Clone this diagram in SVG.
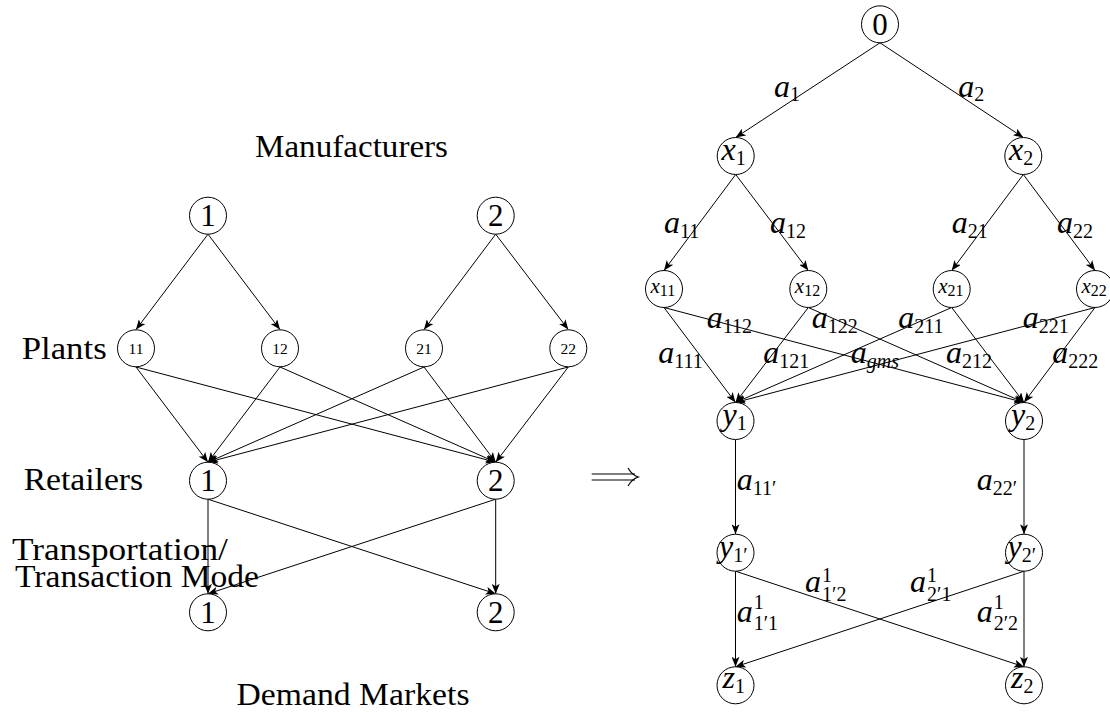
<svg xmlns="http://www.w3.org/2000/svg" width="1110" height="712" viewBox="0 0 1110 712">
<defs>
<marker id="ah" markerUnits="userSpaceOnUse" markerWidth="10" markerHeight="8" viewBox="0 0 10 8" refX="10" refY="4" orient="auto">
<path d="M0,0 L10,4 L0,8 L2.5,4 z" fill="#000"/>
</marker>
</defs>

<g id="connectors" stroke="#000" stroke-width="1">
<line x1="208" y1="234.2" x2="136" y2="329.6" marker-end="url(#ah)"/>
<line x1="208" y1="234.2" x2="280" y2="329.6" marker-end="url(#ah)"/>
<line x1="495.7" y1="234.2" x2="424" y2="329.6" marker-end="url(#ah)"/>
<line x1="495.7" y1="234.2" x2="568.3" y2="329.6" marker-end="url(#ah)"/>
<line x1="136" y1="367" x2="208" y2="462.2" marker-end="url(#ah)"/>
<line x1="136" y1="367" x2="495.7" y2="462.2" marker-end="url(#ah)"/>
<line x1="280" y1="367" x2="208" y2="462.2" marker-end="url(#ah)"/>
<line x1="280" y1="367" x2="495.7" y2="462.2" marker-end="url(#ah)"/>
<line x1="424" y1="367" x2="208" y2="462.2" marker-end="url(#ah)"/>
<line x1="424" y1="367" x2="495.7" y2="462.2" marker-end="url(#ah)"/>
<line x1="568.3" y1="367" x2="208" y2="462.2" marker-end="url(#ah)"/>
<line x1="568.3" y1="367" x2="495.7" y2="462.2" marker-end="url(#ah)"/>
<line x1="208" y1="499.2" x2="208" y2="593.8" marker-end="url(#ah)"/>
<line x1="208" y1="499.2" x2="495.7" y2="593.8" marker-end="url(#ah)"/>
<line x1="495.7" y1="499.2" x2="208" y2="593.8" marker-end="url(#ah)"/>
<line x1="495.7" y1="499.2" x2="495.7" y2="593.8" marker-end="url(#ah)"/>
<line x1="880" y1="42.8" x2="735.7" y2="137.5" marker-end="url(#ah)"/>
<line x1="880" y1="42.8" x2="1023.3" y2="137.5" marker-end="url(#ah)"/>
<line x1="735.7" y1="174.5" x2="664" y2="270.5" marker-end="url(#ah)"/>
<line x1="735.7" y1="174.5" x2="808.3" y2="270.5" marker-end="url(#ah)"/>
<line x1="1023.3" y1="174.5" x2="951.7" y2="270.5" marker-end="url(#ah)"/>
<line x1="1023.3" y1="174.5" x2="1095" y2="270.5" marker-end="url(#ah)"/>
<line x1="664" y1="307.5" x2="735.5" y2="402.5" marker-end="url(#ah)"/>
<line x1="664" y1="307.5" x2="1024" y2="402.5" marker-end="url(#ah)"/>
<line x1="808.3" y1="307.5" x2="735.5" y2="402.5" marker-end="url(#ah)"/>
<line x1="808.3" y1="307.5" x2="1024" y2="402.5" marker-end="url(#ah)"/>
<line x1="951.7" y1="307.5" x2="735.5" y2="402.5" marker-end="url(#ah)"/>
<line x1="951.7" y1="307.5" x2="1024" y2="402.5" marker-end="url(#ah)"/>
<line x1="1095" y1="307.5" x2="735.5" y2="402.5" marker-end="url(#ah)"/>
<line x1="1095" y1="307.5" x2="1024" y2="402.5" marker-end="url(#ah)"/>
<line x1="735.5" y1="439.5" x2="735.5" y2="534.2" marker-end="url(#ah)"/>
<line x1="1024" y1="439.5" x2="1024" y2="534.2" marker-end="url(#ah)"/>
<line x1="735.5" y1="571.2" x2="735.5" y2="666.8" marker-end="url(#ah)"/>
<line x1="735.5" y1="571.2" x2="1024" y2="666.8" marker-end="url(#ah)"/>
<line x1="1024" y1="571.2" x2="735.5" y2="666.8" marker-end="url(#ah)"/>
<line x1="1024" y1="571.2" x2="1024" y2="666.8" marker-end="url(#ah)"/>
</g>

<g id="implies" stroke="#000" stroke-width="1.2" fill="none">
<line x1="591.7" y1="474" x2="635" y2="474"/>
<line x1="591.7" y1="480" x2="635" y2="480"/>
<path d="M628,468 Q632,475 638.3,477 Q632,479 628,486"/>
</g>

<g id="labels-left" font-family="Liberation Serif" font-size="31" fill="#000">
<text style="font-family:'Liberation Serif',serif !important" x="255" y="156.7" textLength="193" lengthAdjust="spacingAndGlyphs">Manufacturers</text>
<text style="font-family:'Liberation Serif',serif !important" x="21.7" y="359" textLength="85" lengthAdjust="spacingAndGlyphs">Plants</text>
<text style="font-family:'Liberation Serif',serif !important" x="23.7" y="490" textLength="119.4" lengthAdjust="spacingAndGlyphs">Retailers</text>
<text style="font-family:'Liberation Serif',serif !important" x="11.9" y="560" textLength="216" lengthAdjust="spacingAndGlyphs">Transportation/</text>
<text style="font-family:'Liberation Serif',serif !important" x="15" y="586.7" textLength="244" lengthAdjust="spacingAndGlyphs">Transaction Mode</text>
<text style="font-family:'Liberation Serif',serif !important" x="236.5" y="705" textLength="233" lengthAdjust="spacingAndGlyphs">Demand Markets</text>
</g>

<g id="nodes" font-family="Liberation Serif" fill="#000">
<g id="m1"><circle cx="208" cy="215.7" r="18.5" fill="#fff" stroke="#000"/><text style="font-family:'Liberation Serif',serif !important" x="208" y="226" font-size="31" text-anchor="middle">1</text></g>
<g id="m2"><circle cx="495.7" cy="215.7" r="18.5" fill="#fff" stroke="#000"/><text style="font-family:'Liberation Serif',serif !important" x="495.7" y="226" font-size="31" text-anchor="middle">2</text></g>
<g id="p11"><circle cx="136" cy="348.3" r="18.5" fill="#fff" stroke="#000"/><text style="font-family:'Liberation Serif',serif !important" x="136" y="353.5" font-size="15.5" text-anchor="middle">11</text></g>
<g id="p12"><circle cx="280" cy="348.3" r="18.5" fill="#fff" stroke="#000"/><text style="font-family:'Liberation Serif',serif !important" x="280" y="353.5" font-size="15.5" text-anchor="middle">12</text></g>
<g id="p21"><circle cx="424" cy="348.3" r="18.5" fill="#fff" stroke="#000"/><text style="font-family:'Liberation Serif',serif !important" x="424" y="353.5" font-size="15.5" text-anchor="middle">21</text></g>
<g id="p22"><circle cx="568.3" cy="348.3" r="18.5" fill="#fff" stroke="#000"/><text style="font-family:'Liberation Serif',serif !important" x="568.3" y="353.5" font-size="15.5" text-anchor="middle">22</text></g>
<g id="r1"><circle cx="208" cy="480.7" r="18.5" fill="#fff" stroke="#000"/><text style="font-family:'Liberation Serif',serif !important" x="208" y="491" font-size="31" text-anchor="middle">1</text></g>
<g id="r2"><circle cx="495.7" cy="480.7" r="18.5" fill="#fff" stroke="#000"/><text style="font-family:'Liberation Serif',serif !important" x="495.7" y="491" font-size="31" text-anchor="middle">2</text></g>
<g id="d1"><circle cx="208" cy="612.3" r="18.5" fill="#fff" stroke="#000"/><text style="font-family:'Liberation Serif',serif !important" x="208" y="622.6" font-size="31" text-anchor="middle">1</text></g>
<g id="d2"><circle cx="495.7" cy="612.3" r="18.5" fill="#fff" stroke="#000"/><text style="font-family:'Liberation Serif',serif !important" x="495.7" y="622.6" font-size="31" text-anchor="middle">2</text></g>

<g id="n0"><circle cx="880" cy="24.3" r="18.5" fill="#fff" stroke="#000"/><text style="font-family:'Liberation Serif',serif !important" x="880" y="35" font-size="31" text-anchor="middle">0</text></g>
<g id="x1"><circle cx="735.7" cy="156" r="18.5" fill="#fff" stroke="#000"/><text style="font-family:'Liberation Serif',serif !important" x="721.5" y="160" font-size="32" font-style="italic">x<tspan font-size="20" font-style="normal" dy="4.5">1</tspan></text></g>
<g id="x2"><circle cx="1023.3" cy="156" r="18.5" fill="#fff" stroke="#000"/><text style="font-family:'Liberation Serif',serif !important" x="1009.1" y="160" font-size="32" font-style="italic">x<tspan font-size="20" font-style="normal" dy="4.5">2</tspan></text></g>
<g id="x11"><circle cx="664" cy="289" r="18.5" fill="#fff" stroke="#000"/><text style="font-family:'Liberation Serif',serif !important" x="650.5" y="293" font-size="21" font-style="italic">x<tspan font-size="16" font-style="normal" dy="3">11</tspan></text></g>
<g id="x12"><circle cx="808.3" cy="289" r="18.5" fill="#fff" stroke="#000"/><text style="font-family:'Liberation Serif',serif !important" x="794.8" y="293" font-size="21" font-style="italic">x<tspan font-size="16" font-style="normal" dy="3">12</tspan></text></g>
<g id="x21"><circle cx="951.7" cy="289" r="18.5" fill="#fff" stroke="#000"/><text style="font-family:'Liberation Serif',serif !important" x="938.2" y="293" font-size="21" font-style="italic">x<tspan font-size="16" font-style="normal" dy="3">21</tspan></text></g>
<g id="x22"><circle cx="1095" cy="289" r="18.5" fill="#fff" stroke="#000"/><text style="font-family:'Liberation Serif',serif !important" x="1081.5" y="293" font-size="21" font-style="italic">x<tspan font-size="16" font-style="normal" dy="3">22</tspan></text></g>
<g id="y1"><circle cx="735.5" cy="421" r="18.5" fill="#fff" stroke="#000"/><text style="font-family:'Liberation Serif',serif !important" x="722.5" y="425" font-size="32" font-style="italic">y<tspan font-size="20" font-style="normal" dy="4.5">1</tspan></text></g>
<g id="y2"><circle cx="1024" cy="421" r="18.5" fill="#fff" stroke="#000"/><text style="font-family:'Liberation Serif',serif !important" x="1011" y="425" font-size="32" font-style="italic">y<tspan font-size="20" font-style="normal" dy="4.5">2</tspan></text></g>
<g id="y1p"><circle cx="735.5" cy="552.7" r="18.5" fill="#fff" stroke="#000"/><text style="font-family:'Liberation Serif',serif !important" x="719" y="557" font-size="32" font-style="italic">y<tspan font-size="20" font-style="normal" dy="4.5">1′</tspan></text></g>
<g id="y2p"><circle cx="1024" cy="552.7" r="18.5" fill="#fff" stroke="#000"/><text style="font-family:'Liberation Serif',serif !important" x="1007.5" y="557" font-size="32" font-style="italic">y<tspan font-size="20" font-style="normal" dy="4.5">2′</tspan></text></g>
<g id="z1"><circle cx="735.5" cy="685.3" r="18.5" fill="#fff" stroke="#000"/><text style="font-family:'Liberation Serif',serif !important" x="722.5" y="688" font-size="32" font-style="italic">z<tspan font-size="20" font-style="normal" dy="4.5">1</tspan></text></g>
<g id="z2"><circle cx="1024" cy="685.3" r="18.5" fill="#fff" stroke="#000"/><text style="font-family:'Liberation Serif',serif !important" x="1011" y="688" font-size="32" font-style="italic">z<tspan font-size="20" font-style="normal" dy="4.5">2</tspan></text></g>
</g>

<g id="edge-labels" font-family="Liberation Serif" fill="#000" font-size="32" font-style="italic">
<text style="font-family:'Liberation Serif',serif !important" x="774" y="96.7">a<tspan font-size="20" font-style="normal" dy="4">1</tspan></text>
<text style="font-family:'Liberation Serif',serif !important" x="958.3" y="96.7">a<tspan font-size="20" font-style="normal" dy="4">2</tspan></text>
<text style="font-family:'Liberation Serif',serif !important" x="664" y="233.3">a<tspan font-size="20" font-style="normal" dy="4.5">11</tspan></text>
<text style="font-family:'Liberation Serif',serif !important" x="770" y="233.3">a<tspan font-size="20" font-style="normal" dy="4.5">12</tspan></text>
<text style="font-family:'Liberation Serif',serif !important" x="951.7" y="233.3">a<tspan font-size="20" font-style="normal" dy="4.5">21</tspan></text>
<text style="font-family:'Liberation Serif',serif !important" x="1057" y="233.3">a<tspan font-size="20" font-style="normal" dy="4.5">22</tspan></text>
<text style="font-family:'Liberation Serif',serif !important" x="706.7" y="328.3">a<tspan font-size="20" font-style="normal" dy="4.5">112</tspan></text>
<text style="font-family:'Liberation Serif',serif !important" x="811.7" y="328.3">a<tspan font-size="20" font-style="normal" dy="4.5">122</tspan></text>
<text style="font-family:'Liberation Serif',serif !important" x="898.3" y="328.3">a<tspan font-size="20" font-style="normal" dy="4.5">211</tspan></text>
<text style="font-family:'Liberation Serif',serif !important" x="1022.7" y="328.3">a<tspan font-size="20" font-style="normal" dy="4.5">221</tspan></text>
<text style="font-family:'Liberation Serif',serif !important" x="658.3" y="363.3">a<tspan font-size="20" font-style="normal" dy="4.5">111</tspan></text>
<text style="font-family:'Liberation Serif',serif !important" x="763.3" y="363.3">a<tspan font-size="20" font-style="normal" dy="4.5">121</tspan></text>
<text style="font-family:'Liberation Serif',serif !important" x="850.7" y="363.3">a<tspan font-size="20" dy="4.5">gms</tspan></text>
<text style="font-family:'Liberation Serif',serif !important" x="946" y="363.3">a<tspan font-size="20" font-style="normal" dy="4.5">212</tspan></text>
<text style="font-family:'Liberation Serif',serif !important" x="1052.3" y="363.3">a<tspan font-size="20" font-style="normal" dy="4.5">222</tspan></text>
<text style="font-family:'Liberation Serif',serif !important" x="736.7" y="490">a<tspan font-size="20" font-style="normal" dy="4.5">11′</tspan></text>
<text style="font-family:'Liberation Serif',serif !important" x="976.7" y="490">a<tspan font-size="20" font-style="normal" dy="4.5">22′</tspan></text>
<text style="font-family:'Liberation Serif',serif !important" x="805" y="591.7">a</text><text style="font-family:'Liberation Serif',serif !important" x="822" y="581.7" font-size="20" font-style="normal">1</text><text style="font-family:'Liberation Serif',serif !important" x="822" y="601" font-size="20" font-style="normal">1′2</text>
<text style="font-family:'Liberation Serif',serif !important" x="910" y="591.7">a</text><text style="font-family:'Liberation Serif',serif !important" x="927" y="581.7" font-size="20" font-style="normal">1</text><text style="font-family:'Liberation Serif',serif !important" x="927" y="601" font-size="20" font-style="normal">2′1</text>
<text style="font-family:'Liberation Serif',serif !important" x="736.7" y="621.7">a</text><text style="font-family:'Liberation Serif',serif !important" x="753.7" y="609" font-size="20" font-style="normal">1</text><text style="font-family:'Liberation Serif',serif !important" x="753.7" y="630" font-size="20" font-style="normal">1′1</text>
<text style="font-family:'Liberation Serif',serif !important" x="976.7" y="621.7">a</text><text style="font-family:'Liberation Serif',serif !important" x="993.7" y="609" font-size="20" font-style="normal">1</text><text style="font-family:'Liberation Serif',serif !important" x="993.7" y="630" font-size="20" font-style="normal">2′2</text>
</g>
</svg>
